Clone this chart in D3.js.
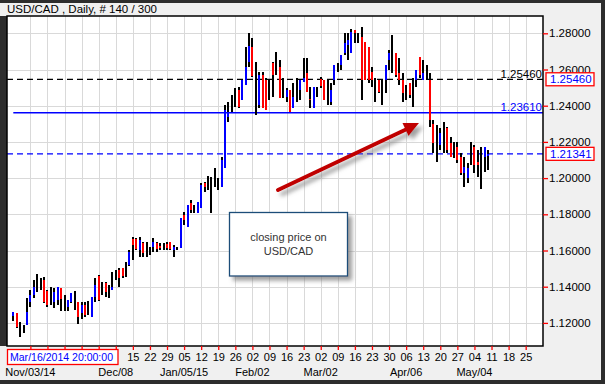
<!DOCTYPE html>
<html>
<head>
<meta charset="utf-8">
<script src="https://cdn.jsdelivr.net/npm/d3@7"></script>
<style>
body { margin: 0; background: #f0f0f0; }
svg { display: block; font-family: "Liberation Sans", Arial, sans-serif; }
</style>
</head>
<body>
<svg id="chart" width="605" height="384"></svg>
<script>
// USD/CAD daily bars, Oct 27 2014 .. May 08 2015 (140 bars)
var open = [1.1238,1.1255,1.1161,1.1166,1.1188,1.1316,1.1354,1.1421,1.1415,1.1437,
  1.1376,1.1349,1.1316,1.1327,1.1393,1.1310,1.1288,1.1316,1.1327,1.1316,
  1.1255,1.1299,1.1282,1.1233,1.1343,1.1459,1.1393,1.1421,1.1376,1.1382,
  1.1465,1.1492,1.1503,1.1492,1.1520,1.1664,1.1664,1.1603,1.1642,1.1614,
  1.1597,1.1619,1.1642,1.1625,1.1619,1.1636,1.1647,1.1603,1.1614,1.1614,
  1.1796,1.1730,1.1863,1.1829,1.1807,1.1835,1.1973,1.1990,1.1962,1.2017,
  1.1967,1.1951,1.2056,1.2338,1.2415,1.2448,1.2487,1.2432,1.2514,1.2642,
  1.2724,1.2542,1.2404,1.2570,1.2542,1.2487,1.2636,1.2636,1.2614,1.2498,
  1.2448,1.2487,1.2387,1.2487,1.2487,1.2531,1.2581,1.2437,1.2387,1.2476,
  1.2548,1.2542,1.2476,1.2421,1.2542,1.2608,1.2625,1.2691,1.2735,1.2691,
  1.2818,1.2774,1.2780,1.2752,1.2724,1.2586,1.2542,1.2542,1.2542,1.2542,
  1.2653,1.2691,1.2691,1.2581,1.2542,1.2476,1.2525,1.2542,1.2542,1.2669,
  1.2542,1.2586,1.2542,1.2299,1.2155,1.2183,1.2238,1.2277,1.2194,1.2155,
  1.2172,1.2117,1.2028,1.2001,1.2144,1.2172,1.2089,1.2072,1.2117,1.2124];
var high = [1.1260,1.1255,1.1205,1.1188,1.1338,1.1382,1.1437,1.1470,1.1448,1.1454,
  1.1382,1.1398,1.1393,1.1398,1.1393,1.1354,1.1327,1.1365,1.1376,1.1316,
  1.1316,1.1316,1.1321,1.1343,1.1448,1.1465,1.1426,1.1426,1.1409,1.1481,
  1.1492,1.1503,1.1503,1.1537,1.1603,1.1675,1.1669,1.1675,1.1647,1.1647,
  1.1619,1.1669,1.1647,1.1642,1.1642,1.1647,1.1647,1.1630,1.1619,1.1780,
  1.1813,1.1851,1.1879,1.1851,1.1868,1.1973,1.1979,1.2012,1.2006,1.2056,
  1.2001,1.2117,1.2404,1.2420,1.2459,1.2498,1.2503,1.2542,1.2724,1.2802,
  1.2774,1.2642,1.2586,1.2586,1.2553,1.2542,1.2642,1.2697,1.2653,1.2553,
  1.2498,1.2487,1.2525,1.2553,1.2542,1.2664,1.2664,1.2503,1.2503,1.2503,
  1.2559,1.2542,1.2542,1.2525,1.2625,1.2636,1.2680,1.2802,1.2802,1.2824,
  1.2818,1.2802,1.2835,1.2752,1.2724,1.2614,1.2553,1.2542,1.2542,1.2625,
  1.2708,1.2791,1.2691,1.2664,1.2581,1.2514,1.2525,1.2553,1.2597,1.2669,
  1.2653,1.2625,1.2581,1.2321,1.2293,1.2277,1.2310,1.2282,1.2227,1.2199,
  1.2199,1.2139,1.2117,1.2083,1.2199,1.2183,1.2155,1.2172,1.2172,1.2155];
var low = [1.1211,1.1172,1.1122,1.1144,1.1188,1.1288,1.1338,1.1371,1.1382,1.1310,
  1.1288,1.1299,1.1282,1.1299,1.1266,1.1266,1.1266,1.1310,1.1271,1.1194,
  1.1222,1.1233,1.1244,1.1233,1.1316,1.1321,1.1354,1.1343,1.1338,1.1382,
  1.1437,1.1398,1.1448,1.1454,1.1514,1.1548,1.1603,1.1564,1.1564,1.1564,
  1.1575,1.1592,1.1592,1.1603,1.1603,1.1603,1.1603,1.1564,1.1603,1.1614,
  1.1741,1.1730,1.1807,1.1807,1.1807,1.1835,1.1923,1.1934,1.1807,1.1951,
  1.1934,1.1951,1.2056,1.2310,1.2365,1.2393,1.2387,1.2432,1.2514,1.2614,
  1.2559,1.2349,1.2387,1.2387,1.2376,1.2432,1.2448,1.2570,1.2443,1.2443,
  1.2421,1.2365,1.2387,1.2421,1.2432,1.2531,1.2476,1.2387,1.2387,1.2448,
  1.2498,1.2432,1.2404,1.2404,1.2514,1.2586,1.2597,1.2680,1.2653,1.2691,
  1.2746,1.2746,1.2432,1.2542,1.2525,1.2503,1.2421,1.2470,1.2404,1.2470,
  1.2597,1.2581,1.2559,1.2514,1.2421,1.2432,1.2443,1.2393,1.2503,1.2553,
  1.2542,1.2542,1.2282,1.2139,1.2089,1.2155,1.2139,1.2139,1.2117,1.2111,
  1.2083,1.2017,1.1951,1.1973,1.2072,1.2028,1.2006,1.1940,1.2034,1.2045];
var close = [1.1260,1.1177,1.1161,1.1166,1.1260,1.1354,1.1398,1.1421,1.1415,1.1316,
  1.1299,1.1349,1.1371,1.1398,1.1332,1.1310,1.1327,1.1365,1.1327,1.1233,
  1.1299,1.1244,1.1282,1.1343,1.1409,1.1327,1.1393,1.1371,1.1376,1.1398,
  1.1465,1.1448,1.1459,1.1492,1.1592,1.1630,1.1608,1.1658,1.1586,1.1614,
  1.1597,1.1647,1.1608,1.1614,1.1619,1.1614,1.1608,1.1619,1.1614,1.1780,
  1.1769,1.1851,1.1824,1.1829,1.1868,1.1962,1.1951,1.1990,1.1962,1.2017,
  1.1967,1.2100,1.2376,1.2365,1.2415,1.2448,1.2393,1.2542,1.2614,1.2730,
  1.2564,1.2542,1.2570,1.2387,1.2376,1.2487,1.2570,1.2636,1.2443,1.2498,
  1.2487,1.2365,1.2448,1.2487,1.2542,1.2553,1.2476,1.2432,1.2503,1.2476,
  1.2509,1.2432,1.2476,1.2487,1.2625,1.2608,1.2680,1.2746,1.2763,1.2807,
  1.2802,1.2774,1.2542,1.2542,1.2542,1.2542,1.2542,1.2476,1.2542,1.2625,
  1.2691,1.2691,1.2570,1.2542,1.2470,1.2476,1.2459,1.2542,1.2597,1.2570,
  1.2581,1.2586,1.2321,1.2194,1.2155,1.2249,1.2238,1.2155,1.2117,1.2155,
  1.2100,1.2028,1.2061,1.2056,1.2144,1.2072,1.2072,1.2072,1.2172,1.21341];

// weekly axis: first Monday (Nov 03) is bar 5, one tick every 5 bars
var dayLabels = ["03","10","17","24","01","08","15","22","29","05","12","19","26","02","09",
  "16","23","02","09","16","23","30","06","13","20","27","04","11","18","25"];
var monthLabels = ["Nov/03/14","Dec/08","Jan/05/15","Feb/02","Mar/02","Apr/06","May/04"];
var monthAt = [0,5,9,13,17,22,26];
var priceTicks = [1.12,1.14,1.16,1.18,1.20,1.22,1.24,1.26,1.28];

var resLevel = 1.25460;
var fibLevel = 1.23610;
var lastPrice = close[close.length - 1];

var plot = {l: 7, r: 543, t: 16, b: 346};
var timeBox = {x: 7.5, y: 349.5, w: 110.5, h: 15};
var svg = d3.select("#chart");

var x = d3.scaleLinear().domain([-1.844, 155.07]).range([plot.l, plot.r]);
var y = d3.scaleLinear().domain([1.10724, 1.28956]).range([plot.b, plot.t]);
var tickIdx = dayLabels.map(function (d, k) { return 5 + 5 * k; });

var defs = svg.append("defs");
var sh = defs.append("filter").attr("id", "shadow").attr("x", "-20%").attr("y", "-20%")
  .attr("width", "150%").attr("height", "160%");
sh.append("feDropShadow").attr("dx", 4).attr("dy", 4).attr("stdDeviation", 2)
  .attr("flood-color", "#777").attr("flood-opacity", 0.7);

// window frame
svg.append("rect").attr("width", 605).attr("height", 384).attr("fill", "#f0f0f0");
svg.append("rect").attr("x", 0).attr("y", 0).attr("width", 605).attr("height", 3).attr("fill", "#2d2d2d");
svg.append("rect").attr("x", 0).attr("y", plot.t).attr("width", plot.l).attr("height", plot.b - plot.t).attr("fill", "#2d2d2d");
svg.append("rect").attr("x", 601).attr("y", 0).attr("width", 4).attr("height", 384).attr("fill", "#2d2d2d");
svg.append("rect").attr("x", 0).attr("y", 380).attr("width", 605).attr("height", 4).attr("fill", "#2d2d2d");

svg.append("text").attr("x", 7).attr("y", 13).attr("font-size", 11.5).text("USD/CAD , Daily, # 140 / 300");

svg.append("rect").attr("x", plot.l).attr("y", plot.t).attr("width", plot.r - plot.l)
  .attr("height", plot.b - plot.t).attr("fill", "#fff");

// grid
var grid = svg.append("g").attr("stroke", "#d9d9d9").attr("stroke-width", 1).attr("shape-rendering", "crispEdges");
grid.selectAll(".hg").data(priceTicks).join("line")
  .attr("x1", plot.l).attr("x2", plot.r)
  .attr("y1", function (d) { return Math.round(y(d)) + 0.5; })
  .attr("y2", function (d) { return Math.round(y(d)) + 0.5; });
grid.selectAll(".vg").data(tickIdx).join("line")
  .attr("y1", plot.t).attr("y2", plot.b)
  .attr("x1", function (d) { return Math.round(x(d)) + 0.5; })
  .attr("x2", function (d) { return Math.round(x(d)) + 0.5; });

// level lines
svg.append("line").attr("x1", plot.l).attr("x2", plot.r).attr("y1", y(resLevel)).attr("y2", y(resLevel))
  .attr("stroke", "#000").attr("stroke-width", 1.3).attr("stroke-dasharray", "6,4");
svg.append("line").attr("x1", x(0)).attr("x2", plot.r).attr("y1", y(fibLevel)).attr("y2", y(fibLevel))
  .attr("stroke", "#0000ff").attr("stroke-width", 1.3);
svg.append("line").attr("x1", plot.l).attr("x2", plot.r).attr("y1", y(lastPrice)).attr("y2", y(lastPrice))
  .attr("stroke", "#0000ff").attr("stroke-width", 1.3).attr("stroke-dasharray", "6,4");

// bars
var bars = d3.range(open.length).map(function (i) {
  return {i: i, o: open[i], h: high[i], l: low[i], c: close[i]};
});
var g = svg.append("g").attr("shape-rendering", "crispEdges");
g.selectAll(".hl").data(bars).join("rect")
  .attr("x", function (d) { return Math.round(x(d.i)) - 1; })
  .attr("width", 2)
  .attr("y", function (d) { return y(d.h); })
  .attr("height", function (d) { return Math.max(1, y(d.l) - y(d.h)); })
  .attr("fill", "#000");
g.selectAll(".oc").data(bars.filter(function (d) { return d.o !== d.c; })).join("rect")
  .attr("x", function (d) { return Math.round(x(d.i)) - 1; })
  .attr("width", 2)
  .attr("y", function (d) { return y(Math.max(d.o, d.c)); })
  .attr("height", function (d) { return Math.abs(y(d.o) - y(d.c)); })
  .attr("fill", function (d) { return d.c > d.o ? "#0000ff" : "#ff0000"; });

svg.append("text").attr("x", plot.r - 1).attr("y", y(resLevel) - 1.5).attr("text-anchor", "end")
  .attr("font-size", 11.5).attr("fill", "#000").text(d3.format(".5f")(resLevel));
svg.append("text").attr("x", plot.r - 1).attr("y", y(fibLevel) - 1.5).attr("text-anchor", "end")
  .attr("font-size", 11.5).attr("fill", "#0000ff").text(d3.format(".5f")(fibLevel));

// border
svg.append("rect").attr("x", plot.l).attr("y", plot.t).attr("width", plot.r - plot.l)
  .attr("height", plot.b - plot.t).attr("fill", "none").attr("stroke", "#000").attr("stroke-width", 1.5);

// axes
var yAxis = svg.append("g").attr("transform", "translate(" + plot.r + ",0)")
  .call(d3.axisRight(y).tickValues(priceTicks).tickFormat(d3.format(".5f")).tickSize(5).tickPadding(1));
yAxis.select(".domain").remove();
yAxis.selectAll("line").attr("stroke", "#ff0000").attr("stroke-width", 1.3);
yAxis.selectAll("text").attr("font-size", 11.5).attr("font-family", "Liberation Sans, Arial, sans-serif").attr("fill", "#000");

// day labels that sit under the time box are covered in the original
var xAxis = svg.append("g").attr("transform", "translate(0," + plot.b + ")")
  .call(d3.axisBottom(x).tickValues(tickIdx)
    .tickFormat(function (d, k) { return x(d) - 6 < timeBox.x + timeBox.w ? "" : dayLabels[k]; })
    .tickSize(4).tickPadding(3));
xAxis.select(".domain").remove();
xAxis.selectAll("line").attr("stroke", "#ff0000").attr("stroke-width", 1.3);
xAxis.selectAll("text").attr("font-size", 11).attr("font-family", "Liberation Sans, Arial, sans-serif").attr("fill", "#000");

svg.selectAll(".month").data(monthLabels).join("text")
  .attr("x", function (d, k) { return x(tickIdx[monthAt[k]]); })
  .attr("y", 376).attr("text-anchor", "middle").attr("font-size", 11).text(function (d) { return d; });

// price boxes on the axis
[resLevel, lastPrice].forEach(function (v) {
  var yy = y(v);
  svg.append("rect").attr("x", 546).attr("y", yy - 6.5).attr("width", 48).attr("height", 13)
    .attr("fill", "#fff").attr("stroke", "#ff0000").attr("stroke-width", 1.3);
  svg.append("text").attr("x", 550).attr("y", yy + 4).attr("font-size", 11.5).attr("fill", "#0000ff")
    .text(d3.format(".5f")(v));
});

// crosshair time box
svg.append("rect").attr("x", timeBox.x).attr("y", timeBox.y).attr("width", timeBox.w).attr("height", timeBox.h)
  .attr("fill", "#fff").attr("stroke", "#ff0000").attr("stroke-width", 1.3);
svg.append("text").attr("x", 10).attr("y", 361).attr("font-size", 11).attr("fill", "#0000ff")
  .attr("textLength", 103).attr("lengthAdjust", "spacingAndGlyphs")
  .text("Mar/16/2014 20:00:00");

// annotation
svg.append("rect").attr("x", 229.5).attr("y", 212.5).attr("width", 118).attr("height", 63.5)
  .attr("fill", "#fff").attr("stroke", "#1f4e79").attr("stroke-width", 1.3).attr("filter", "url(#shadow)");
svg.append("text").attr("x", 288.5).attr("y", 241).attr("text-anchor", "middle").attr("font-size", 11)
  .attr("fill", "#333").text("closing price on");
svg.append("text").attr("x", 288.5).attr("y", 255).attr("text-anchor", "middle").attr("font-size", 11)
  .attr("fill", "#333").text("USD/CAD");

var arrow = svg.append("g").attr("filter", "url(#shadow)");
arrow.append("line").attr("x1", 278).attr("y1", 190).attr("x2", 407).attr("y2", 129)
  .attr("stroke", "#c00000").attr("stroke-width", 4).attr("stroke-linecap", "round");
arrow.append("path").attr("d", "M419,123 L402.5,123 L408.5,136 Z").attr("fill", "#c00000");
</script>
</body>
</html>
